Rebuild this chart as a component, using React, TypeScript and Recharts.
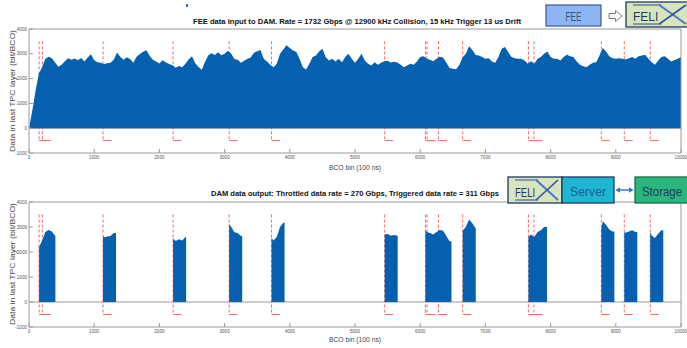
import React from 'react';
import { AreaChart, Area, XAxis, YAxis, ReferenceLine } from 'recharts';

// BCO bins every 50 (100 ns units)
const binStep = 50;
const feeInput: number[] = [
  0, 700, 1500, 2200, 2450, 2800, 2880, 2820, 2650, 2480,
  2560, 2700, 2820, 2760, 2810, 2740, 2830, 2690, 2850, 2980,
  2740, 2660, 2640, 2590, 2620, 2640, 2760, 3050, 2880, 2760,
  2860, 2790, 2640, 2880, 2990, 3080, 3140, 2920, 2760, 2690,
  2610, 2740, 2650, 2590, 2540, 2440, 2510, 2460, 2600, 2780,
  2900, 2620, 2470, 2360, 2680, 2940, 3020, 2950, 3060, 2940,
  3000, 3120, 3010, 2790, 2760, 2640, 2720, 2800, 2850, 3040,
  3100, 3150, 2800, 2690, 2560, 2460, 2600, 3000, 3175, 3340,
  3230, 3130, 3070, 2800, 2460, 2370, 2600, 2870, 2930, 3090,
  3200, 2870, 2730, 2800, 2690, 2800, 2660, 2870, 3000, 2800,
  2640, 2800, 3000, 2730, 2600, 2530, 2660, 2560, 2640, 2700,
  2720, 2650, 2680, 2650, 2560, 2460, 2530, 2600, 2560, 2690,
  2870, 2900, 2800, 2760, 2700, 2800, 2880, 2850, 2650, 2430,
  2400, 2380, 2550, 2850, 3000, 3300, 3150, 2950, 2930, 2870,
  2800, 2820, 2690, 2640, 2870, 3200, 3270, 3070, 2870, 2820,
  2800, 2800, 2730, 2600, 2700, 2600, 2800, 2870, 3000, 3090,
  2870, 2800, 2800, 2730, 2870, 2960, 2900, 2870, 2690, 2560,
  2500, 2460, 2560, 2640, 2660, 2930, 3230, 3090, 2900, 2820,
  2800, 2820, 2800, 2770, 2820, 2870, 2800, 2900, 2930, 2960,
  2800, 2660, 2560, 2730, 2870, 2900, 2800, 2690, 2750, 2800,
  2870,
];

const triggers: number[] = [155, 205, 1135, 2210, 3070, 3720, 5455, 6080, 6105, 6280, 6652, 7660, 7745, 8778, 9130, 9528];
const readoutWindow = 200;
const footLength = 130;
const markerTop = 3500;
const markerBottom = -500;

const xTicks: number[] = [0, 1000, 2000, 3000, 4000, 5000, 6000, 7000, 8000, 9000, 10000];
const yTicks: number[] = [-1000, 0, 1000, 2000, 3000, 4000];

const topData = feeInput.map((v, i) => ({ bco: i * binStep, rate: v }));

const windows: [number, number][] = [];
for (const t of triggers) {
  const last = windows[windows.length - 1];
  if (last && t <= last[1]) last[1] = Math.max(last[1], t + readoutWindow);
  else windows.push([t, t + readoutWindow]);
}
const sampleAt = (x: number) => feeInput[Math.floor(x / binStep)];
const bottomData: { bco: number; rate: number }[] = [{ bco: 0, rate: 0 }];
for (const [s, e] of windows) {
  bottomData.push({ bco: s, rate: 0 }, { bco: s, rate: sampleAt(s) });
  topData.forEach((p) => {
    if (p.bco > s && p.bco < e) bottomData.push(p);
  });
  bottomData.push({ bco: e, rate: sampleAt(e) }, { bco: e, rate: 0 });
}
bottomData.push({ bco: 10000, rate: 0 });

const AXIS = '#9a9a9a';
const BLUE = '#0660b0';
const RED = '#f06a6a';
const tickFont = { fontSize: 4.6, fill: '#555', fontFamily: 'Liberation Sans' };

type PanelProps = { data: any[]; height: number; marginTop: number; marginBottom: number; layer: 'under' | 'over' };

function PanelLayer({ data, height, marginTop, marginBottom, layer }: PanelProps) {
  const under = layer === 'under';
  return (
    <AreaChart width={687} height={height} data={data} margin={{ top: marginTop, left: 28, right: 5, bottom: marginBottom }}>
      <XAxis dataKey="bco" type="number" domain={[0, 10000]} ticks={xTicks} interval={0} height={1}
        tickSize={-4} tickMargin={7} axisLine={under ? false : { stroke: AXIS }} tickLine={under ? false : { stroke: AXIS }}
        tick={under ? false : tickFont} allowDataOverflow />
      <XAxis xAxisId="top" orientation="top" type="number" domain={[0, 10000]} ticks={xTicks} interval={0} height={1}
        tickSize={-4} axisLine={under ? false : { stroke: AXIS }} tickLine={under ? false : { stroke: AXIS }} tick={false} allowDataOverflow />
      <YAxis type="number" domain={[-1000, 4000]} ticks={yTicks} interval={0} width={1}
        tickSize={-4} tickMargin={6} axisLine={under ? false : { stroke: AXIS }} tickLine={under ? false : { stroke: AXIS }}
        tick={under ? false : tickFont} allowDataOverflow />
      <YAxis yAxisId="right" orientation="right" type="number" domain={[-1000, 4000]} ticks={yTicks} interval={0} width={1}
        tickSize={-4} axisLine={under ? false : { stroke: AXIS }} tickLine={under ? false : { stroke: AXIS }} tick={false} allowDataOverflow />
      {under && <ReferenceLine y={0} stroke={AXIS} strokeWidth={1} />}
      {under && triggers.map((t, i) => (
        <ReferenceLine key={'v' + i} segment={[{ x: t, y: markerTop }, { x: t, y: markerBottom }]} stroke={RED} strokeWidth={1} strokeDasharray="3 2" />
      ))}
      {under && triggers.map((t, i) => (
        <ReferenceLine key={'h' + i} segment={[{ x: t, y: markerBottom }, { x: t + footLength, y: markerBottom }]} stroke={RED} strokeWidth={1} />
      ))}
      {!under && <Area type="linear" dataKey="rate" fill={BLUE} fillOpacity={1} stroke="none" baseValue={0} isAnimationActive={false} />}
    </AreaChart>
  );
}

function Panel(props: Omit<PanelProps, 'layer'> & { top: number }) {
  const { top, ...rest } = props;
  return (
    <>
      <div style={{ position: 'absolute', left: 0, top }}>
        <PanelLayer {...rest} layer="under" />
      </div>
      <div style={{ position: 'absolute', left: 0, top }}>
        <PanelLayer {...rest} layer="over" />
      </div>
    </>
  );
}

function FelixLogo({ x, y, w, h }: { x: number; y: number; w: number; h: number }) {
  const tx = x + 7;
  const xs = x + w * 0.52;
  const xe = x + w - 4;
  return (
    <g>
      <rect x={x} y={y} width={w} height={h} fill="#d7e4bd" stroke="#1f3864" strokeWidth={1.3} />
      <line x1={tx} y1={y + 3} x2={xs + 2} y2={y + 3} stroke="#2e4f8f" strokeWidth={1} />
      <line x1={tx} y1={y + h - 3} x2={xs + 2} y2={y + h - 3} stroke="#2e4f8f" strokeWidth={1} />
      <text x={tx} y={y + h - 6.5} fontSize={12.5} fill="#1f3864" fontFamily="Liberation Sans" textLength={xs - tx - 1} lengthAdjust="spacingAndGlyphs">FELI</text>
      <line x1={xs} y1={y + 3} x2={xe} y2={y + h - 3} stroke="#4a78c4" strokeWidth={2} />
      <path d={`M ${xs} ${y + h - 3} Q ${(xs + xe) / 2} ${y + h / 2} ${xe} ${y + 3}`} fill="none" stroke="#2e5597" strokeWidth={1.6} />
    </g>
  );
}

function Overlay() {
  return (
    <svg width={687} height={348} style={{ position: 'absolute', left: 0, top: 0, pointerEvents: 'none' }}>
      <rect x={186} y={4} width={2} height={3} fill="#2a6fc0" />
      <text x={357} y={23.8} textAnchor="middle" fontSize={7} fontWeight="bold" fill="#111" fontFamily="Liberation Sans"
        textLength={328} lengthAdjust="spacingAndGlyphs">FEE data input to DAM. Rate = 1732 Gbps @ 12900 kHz Collision, 15 kHz Trigger 13 us Drift</text>
      <text x={355} y={196} textAnchor="middle" fontSize={7} fontWeight="bold" fill="#111" fontFamily="Liberation Sans"
        textLength={288} lengthAdjust="spacingAndGlyphs">DAM data output: Throttled data rate = 270 Gbps, Triggered data rate = 311 Gbps</text>
      <text x={355} y={170} textAnchor="middle" fontSize={6.5} fill="#444" fontFamily="Liberation Sans" textLength={52} lengthAdjust="spacingAndGlyphs">BCO bin (100 ns)</text>
      <text x={355} y={342} textAnchor="middle" fontSize={6.5} fill="#444" fontFamily="Liberation Sans" textLength={52} lengthAdjust="spacingAndGlyphs">BCO bin (100 ns)</text>
      <text x={14.5} y={91} transform="rotate(-90 14.5 91)" textAnchor="middle" fontSize={7.5} fill="#444" fontFamily="Liberation Sans"
        textLength={122} lengthAdjust="spacingAndGlyphs">Data in last TPC layer (bit/BCO)</text>
      <text x={14.5} y={264} transform="rotate(-90 14.5 264)" textAnchor="middle" fontSize={7.5} fill="#444" fontFamily="Liberation Sans"
        textLength={122} lengthAdjust="spacingAndGlyphs">Data in last TPC layer (bit/BCO)</text>

      {/* top diagram */}
      <rect x={546} y={5} width={55} height={21} fill="#8eb4f3" stroke="#3b5998" strokeWidth={1.2} />
      <text x={573.5} y={20.5} textAnchor="middle" fontSize={13} fill="#3a5280" fontFamily="Liberation Sans" textLength={16} lengthAdjust="spacingAndGlyphs">FEE</text>
      <polygon points="609,13.5 615.5,13.5 615.5,10.5 622,16 615.5,21.5 615.5,18.5 609,18.5" fill="#ffffff" stroke="#777" strokeWidth={1} />
      <FelixLogo x={626} y={2} w={64} h={25} />

      {/* bottom diagram */}
      <FelixLogo x={508} y={177} w={54} h={26} />
      <rect x={562} y={177} width={52} height={26} fill="#1fb6d1" stroke="#1f3864" strokeWidth={1.3} />
      <text x={588} y={195.5} textAnchor="middle" fontSize={13} fill="#1f5b98" fontFamily="Liberation Sans" textLength={36} lengthAdjust="spacingAndGlyphs">Server</text>
      <line x1={619} y1={190} x2={630} y2={190} stroke="#2f6fcf" strokeWidth={1.4} />
      <polygon points="615.5,190 620,187.3 620,192.7" fill="#2f6fcf" />
      <polygon points="633.5,190 629,187.3 629,192.7" fill="#2f6fcf" />
      <rect x={635} y={177} width={55} height={26} fill="#2db57f" stroke="#1c6b4e" strokeWidth={1.3} />
      <text x={662} y={195.5} textAnchor="middle" fontSize={13} fill="#1d3d5c" fontFamily="Liberation Sans" textLength={40} lengthAdjust="spacingAndGlyphs">Storage</text>
    </svg>
  );
}

export default function App() {
  return (
    <div style={{ position: 'absolute', left: 0, top: 0, width: 687, height: 348, background: '#fff', overflow: 'hidden' }}>
      <Panel data={topData} top={0} height={175} marginTop={28} marginBottom={21} />
      <Panel data={bottomData} top={175} height={173} marginTop={26} marginBottom={20} />
      <Overlay />
    </div>
  );
}
